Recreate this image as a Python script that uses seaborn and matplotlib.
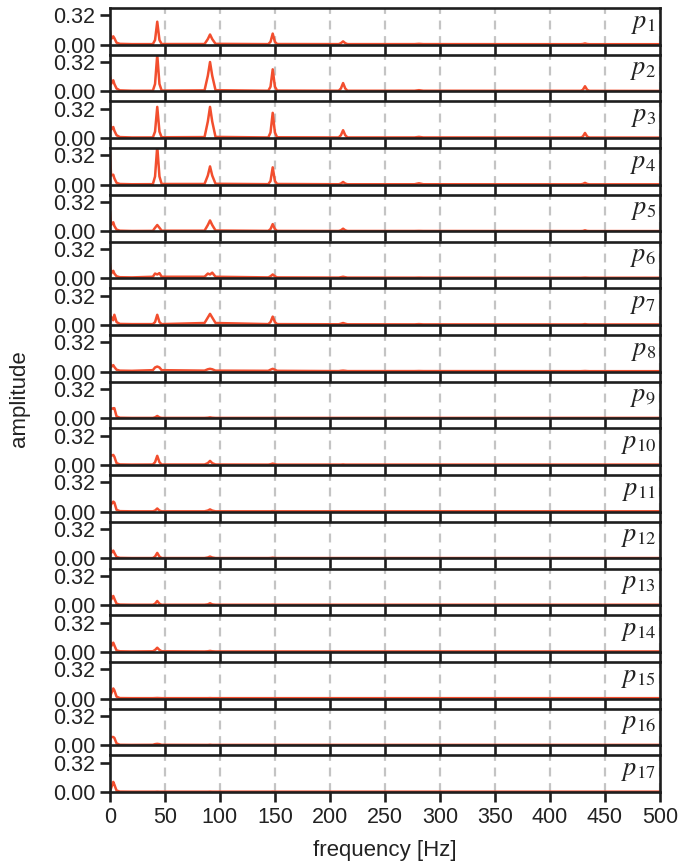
import matplotlib
matplotlib.use("Agg")
import matplotlib.pyplot as plt
import seaborn as sns
import pandas as pd

# frequency sample points [Hz]
freq = [0, 1, 3, 4, 6, 9, 20,
        39, 41, 43, 45, 47,
        86, 89, 91, 93, 96,
        144, 146, 148, 150, 152,
        208, 210, 212, 214, 216,
        277, 281, 285,
        428, 430, 432, 434, 436,
        500]

# amplitudes per sensor (same order as freq)
p1 = [.15, .06, .09, .07, .02, .008, .005, .005, .05, .25, .05, .006, .006, .06, .11, .06, .008,
      .005, .03, .12, .03, .006, .005, .015, .035, .015, .005, .005, .008, .005,
      .004, .006, .012, .006, .004, .004]
p2 = [.17, .08, .12, .08, .03, .01, .006, .006, .08, .40, .08, .008, .01, .17, .32, .17, .012,
      .006, .05, .24, .05, .008, .006, .03, .09, .03, .006, .006, .012, .006,
      .005, .015, .055, .015, .005, .004]
p3 = [.18, .09, .12, .08, .03, .01, .006, .006, .07, .34, .07, .008, .01, .18, .34, .18, .012,
      .006, .06, .275, .06, .008, .006, .03, .085, .03, .006, .006, .012, .006,
      .005, .015, .055, .015, .005, .004]
p4 = [.36, .10, .11, .07, .02, .008, .005, .006, .09, .42, .09, .008, .008, .10, .20, .10, .01,
      .006, .04, .19, .04, .008, .005, .012, .03, .012, .005, .005, .015, .005,
      .004, .008, .02, .008, .004, .004]
p5 = [.22, .07, .10, .06, .02, .008, .005, .006, .04, .07, .04, .008, .008, .07, .12, .07, .01,
      .006, .025, .08, .025, .006, .005, .012, .03, .012, .005, .005, .006, .005,
      .004, .005, .012, .005, .004, .004]
p6 = [.16, .05, .08, .05, .02, .01, .008, .015, .05, .04, .055, .015, .015, .05, .04, .06, .015,
      .008, .02, .04, .02, .008, .006, .01, .015, .01, .006, .005, .006, .005,
      .004, .005, .006, .005, .004, .004]
p7 = [.06, .09, .05, .11, .03, .01, .008, .008, .03, .11, .03, .008, .02, .08, .12, .08, .02,
      .008, .03, .09, .03, .008, .006, .012, .02, .012, .006, .005, .008, .005,
      .004, .005, .008, .005, .004, .004]
p8 = [.10, .05, .07, .05, .02, .01, .008, .015, .045, .055, .045, .015, .01, .025, .03, .025, .01,
      .008, .02, .03, .02, .008, .005, .008, .01, .008, .005, .005, .006, .005,
      .004, .005, .006, .005, .004, .004]
p9 = [.11, .10, .11, .11, .02, .006, .004, .004, .01, .025, .01, .004, .004, .006, .01, .006, .004,
      .004, .004, .005, .004, .004, .004, .004, .004, .004, .004, .004, .004, .004,
      .004, .004, .004, .004, .004, .004]
p10 = [.11, .10, .11, .09, .02, .006, .004, .005, .03, .10, .03, .005, .005, .02, .045, .02, .005,
       .004, .008, .015, .008, .004, .004, .004, .006, .004, .004, .004, .004, .004,
       .004, .004, .004, .004, .004, .004]
p11 = [.04, .08, .11, .10, .02, .006, .004, .004, .012, .035, .012, .004, .004, .012, .025, .012, .004,
       .004, .004, .006, .004, .004, .004, .004, .004, .004, .004, .004, .004, .004,
       .004, .004, .004, .004, .004, .004]
p12 = [.12, .06, .085, .06, .015, .006, .004, .004, .02, .06, .02, .004, .004, .01, .02, .01, .004,
       .004, .005, .008, .005, .004, .004, .004, .004, .004, .004, .004, .004, .004,
       .004, .004, .004, .004, .004, .004]
p13 = [.14, .06, .10, .07, .015, .006, .004, .004, .015, .045, .015, .004, .004, .008, .02, .008, .004,
       .004, .004, .005, .004, .004, .004, .004, .004, .004, .004, .004, .004, .004,
       .004, .004, .004, .004, .004, .004]
p14 = [.12, .06, .10, .07, .015, .006, .004, .006, .02, .045, .02, .006, .004, .006, .01, .006, .004,
       .004, .004, .004, .004, .004, .004, .004, .004, .004, .004, .004, .004, .004,
       .004, .004, .004, .004, .004, .004]
p15 = [.02, .05, .11, .09, .02, .005, .004, .004, .005, .006, .005, .004, .004, .004, .005, .004, .004,
       .004, .004, .004, .004, .004, .004, .004, .004, .004, .004, .004, .004, .004,
       .004, .004, .004, .004, .004, .004]
p16 = [.05, .09, .09, .08, .02, .005, .004, .005, .012, .015, .012, .005, .004, .004, .006, .004, .004,
       .004, .004, .004, .004, .004, .004, .004, .004, .004, .004, .004, .004, .004,
       .004, .004, .004, .004, .004, .004]
p17 = [.01, .04, .11, .08, .015, .004, .003, .003, .003, .004, .003, .003, .003, .003, .004, .003, .003,
       .003, .003, .004, .003, .003, .003, .003, .003, .003, .003, .003, .003, .003,
       .003, .003, .003, .003, .003, .003]

series = [p1, p2, p3, p4, p5, p6, p7, p8, p9, p10, p11, p12, p13, p14, p15, p16, p17]
labels = [f"$p_{{{i}}}$" for i in range(1, 18)]
xticks = [0, 50, 100, 150, 200, 250, 300, 350, 400, 450, 500]
yticks = [0.0, 0.32]
ytick_labels = ["0.00", "0.32"]

sns.set_theme(style="ticks")
plt.rcParams['font.family'] = ['Liberation Sans', 'DejaVu Sans']
plt.rcParams['mathtext.fontset'] = 'stix'

fig, axes = plt.subplots(17, 1, figsize=(6.83, 8.66), dpi=100, sharex=True,
                         gridspec_kw=dict(hspace=0.276))
fig.subplots_adjust(left=0.161, right=0.966, top=0.9908, bottom=0.0855)

line_color = '#f24e2e'
for ax, amp, lab in zip(axes, series, labels):
    df = pd.DataFrame({"frequency": freq, "amplitude": amp})
    sns.lineplot(data=df, x="frequency", y="amplitude", ax=ax, color=line_color,
                 lw=1.8, zorder=3)
    ax.set_xlim(0, 500)
    ax.set_ylim(0, 0.40)
    ax.set_yticks(yticks)
    ax.set_yticklabels(ytick_labels)
    ax.set_xticks(xticks)
    ax.set_xlabel("")
    ax.set_ylabel("")
    ax.grid(axis='x', color='#c4c4c4', linestyle=(0, (4, 3)), lw=1.6, zorder=0)
    for s in ax.spines.values():
        s.set_linewidth(1.9)
        s.set_color('#1e1e1e')
        s.set_zorder(4)
    ax.tick_params(axis='both', direction='out', length=7, width=1.9, color='#1e1e1e',
                   labelsize=15.5, labelcolor='#222222', pad=3.5)
    ax.text(0.993, 0.90, lab, transform=ax.transAxes, ha='right', va='top',
            fontsize=19, color='#222222')

axes[-1].set_xlabel("frequency [Hz]", fontsize=16, color='#222222', labelpad=9)
fig.text(0.028, 0.54, "amplitude", rotation=90, ha='center', va='center',
         fontsize=16, color='#222222')

fig.savefig("out.png", dpi=100)
